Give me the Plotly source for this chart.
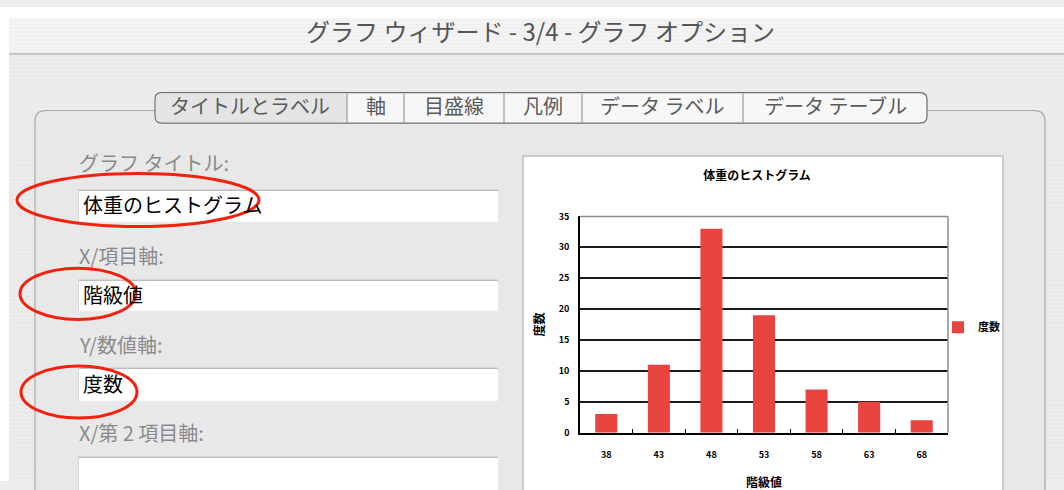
import plotly.graph_objects as go

W, H = 1064, 490

categories = ["38", "43", "48", "53", "58", "63", "68"]
counts = [3, 11, 33, 19, 7, 5, 2]
series_name = "度数"
chart_title = "体重のヒストグラム"
x_title = "階級値"
y_title = "度数"
y_ticks = [0, 5, 10, 15, 20, 25, 30, 35]

dialog_title = "グラフ ウィザード - 3/4 - グラフ オプション"
tab_labels = ["タイトルとラベル", "軸", "目盛線", "凡例", "データ ラベル", "データ テーブル"]
field_labels = ["グラフ タイトル:", "X/項目軸:", "Y/数値軸:", "X/第 2 項目軸:"]
field_values = ["体重のヒストグラム", "階級値", "度数", ""]

JP = "Noto Sans CJK JP"


def px(x):
    return x / W


def py(y):
    return 1 - y / H


shapes = []
annotations = []


def rect(x0, y0, x1, y1, fill=None, line=None, lw=1, layer="below"):
    shapes.append(dict(type="rect", xref="paper", yref="paper",
                       x0=px(x0), x1=px(x1), y0=py(y0), y1=py(y1),
                       fillcolor=fill if fill else "rgba(0,0,0,0)",
                       line=dict(color=line if line else "rgba(0,0,0,0)", width=lw if line else 0),
                       layer=layer))


def hline(x0, x1, y, color, lw=1, layer="below"):
    shapes.append(dict(type="line", xref="paper", yref="paper",
                       x0=px(x0), x1=px(x1), y0=py(y), y1=py(y),
                       line=dict(color=color, width=lw), layer=layer))


def vline(x, y0, y1, color, lw=1, layer="below"):
    shapes.append(dict(type="line", xref="paper", yref="paper",
                       x0=px(x), x1=px(x), y0=py(y0), y1=py(y1),
                       line=dict(color=color, width=lw), layer=layer))


def text(x, y, s, size=14, color="#000", xanchor="left", family=JP):
    annotations.append(dict(xref="paper", yref="paper", x=px(x), y=py(y), text=s,
                            showarrow=False, xanchor=xanchor, yanchor="middle",
                            font=dict(size=size, color=color, family=family)))


def rounded_path(x0, y0, x1, y1, r):
    X = lambda v: px(v)
    Y = lambda v: py(v)
    return (f"M {X(x0+r)},{Y(y0)} L {X(x1-r)},{Y(y0)} Q {X(x1)},{Y(y0)} {X(x1)},{Y(y0+r)} "
            f"L {X(x1)},{Y(y1-r)} Q {X(x1)},{Y(y1)} {X(x1-r)},{Y(y1)} "
            f"L {X(x0+r)},{Y(y1)} Q {X(x0)},{Y(y1)} {X(x0)},{Y(y1-r)} "
            f"L {X(x0)},{Y(y0+r)} Q {X(x0)},{Y(y0)} {X(x0+r)},{Y(y0)} Z")


# top white margin + window
rect(0, 0, W, 12, fill="#ffffff")
rect(0, 0, 9, H, fill="#ffffff")
# title bar
rect(9, 12, W, 48, fill="#f3f3f3")
y = 14
while y < 48:
    hline(9, W, y, "#eeeeee", 1)
    y += 4
hline(9, W, 48.5, "#9a9a9a", 1)
# pinstripes on dialog background
y = 51
while y < H:
    hline(9, W, y, "#e7e7e7", 1)
    y += 4

# group box
shapes.append(dict(type="path", xref="paper", yref="paper",
                   path=rounded_path(35, 107, 1045, 560, 11),
                   fillcolor="#e8e8e8", line=dict(color="#a8a8a8", width=1.2), layer="below"))

# tab bar
shapes.append(dict(type="path", xref="paper", yref="paper",
                   path=rounded_path(155, 88.5, 927, 120, 7),
                   fillcolor="#f7f7f7", line=dict(color="#6e6e6e", width=1.2), layer="below"))
# selected tab slightly darker
shapes.append(dict(type="path", xref="paper", yref="paper",
                   path=rounded_path(156, 89.5, 347, 119, 6),
                   fillcolor="#e4e4e4", line=dict(color="rgba(0,0,0,0)", width=0), layer="below"))
for sx in [347, 404, 504, 582, 743]:
    vline(sx, 89.5, 119.5, "#8a8a8a", 1)
tab_centers = [250, 376, 454, 543, 662, 835]
for cx, lab in zip(tab_centers, tab_labels):
    text(cx, 102, lab, size=20, color="#5a5a5a", xanchor="center")

# dialog title
text(540, 24, dialog_title, size=24, color="#555555", xanchor="center")

# fields
label_y = [161, 257, 349, 440]
box_y = [(189, 222), (282, 314), (373, 407), (465, 520)]
for lab, ly, (b0, b1), val in zip(field_labels, label_y, box_y, field_values):
    text(77, ly, lab, size=20, color="#8a8a8a")
    rect(78, b0, 498, b1, fill="#ffffff")
    hline(78, 498, b0 + 0.5, "#bdbdbd", 1.5)
    vline(78.5, b0, b1, "#d5d5d5", 1)
    if val:
        text(81, (b0 + b1) / 2 - 1, val, size=20, color="#000000")

# preview panel
rect(523, 154, 1003, 520, fill="#ffffff", line="#bdbdbd", lw=1.5)

# red ellipses
for (x0, y0, x1, y1) in [(17, 172, 259, 227), (20, 270, 136, 323), (21, 371, 137, 425)]:
    shapes.append(dict(type="circle", xref="paper", yref="paper",
                       x0=px(x0), x1=px(x1), y0=py(y0), y1=py(y1),
                       line=dict(color="#f2220f", width=3), layer="above"))

PL, PR, PT, PB = 580, 948, 216.5, 440

fig = go.Figure()
fig.add_trace(go.Bar(x=categories, y=counts, name=series_name,
                     marker=dict(color="#e84440", line=dict(width=0)),
                     showlegend=True))

fig.update_layout(
    width=W, height=H,
    margin=dict(l=0, r=0, t=0, b=0),
    paper_bgcolor="#ececec",
    plot_bgcolor="#d9d9d9",
    bargap=0.58,
    shapes=shapes,
    annotations=annotations,
    title=dict(text=chart_title, x=px(757), y=py(176), xanchor="center", yanchor="middle",
               font=dict(size=12, color="#000", family=JP, weight="bold")),
    xaxis=dict(domain=[px(PL), px(PR)], showgrid=False, ticks="inside", tickson="boundaries",
               ticklen=4, tickcolor="#000", showline=True, linecolor="#000", linewidth=1.5,
               mirror=False, tickfont=dict(size=9, color="#000", family=JP, weight="bold"),
               ticklabelstandoff=13,
               title=dict(text=x_title, standoff=20,
                          font=dict(size=12, color="#000", family=JP, weight="bold"))),
    yaxis=dict(domain=[py(PB), py(PT)], range=[0, 35], tickvals=y_ticks,
               showgrid=True, gridcolor="#1a1a1a", gridwidth=1.5,
               showline=True, linecolor="#000", linewidth=1.5, ticks="",
               zeroline=False,
               tickfont=dict(size=9, color="#000", family=JP, weight="bold"),
               ticklabelstandoff=7,
               title=dict(text=y_title, standoff=12,
                          font=dict(size=12, color="#000", family=JP, weight="bold"))),
    legend=dict(x=px(938), y=py(331), xanchor="left", yanchor="middle",
                bgcolor="rgba(0,0,0,0)", font=dict(size=11, color="#000", family=JP, weight="bold"),
                itemwidth=30),
)
fig.add_shape(type="line", xref="paper", yref="paper", x0=px(PL), x1=px(PR), y0=py(PT), y1=py(PT),
              line=dict(color="#8c8c8c", width=1.5), layer="above")
fig.add_shape(type="line", xref="paper", yref="paper", x0=px(PR), x1=px(PR), y0=py(PT), y1=py(PB),
              line=dict(color="#8c8c8c", width=1.5), layer="above")

fig.write_html("out.html")
